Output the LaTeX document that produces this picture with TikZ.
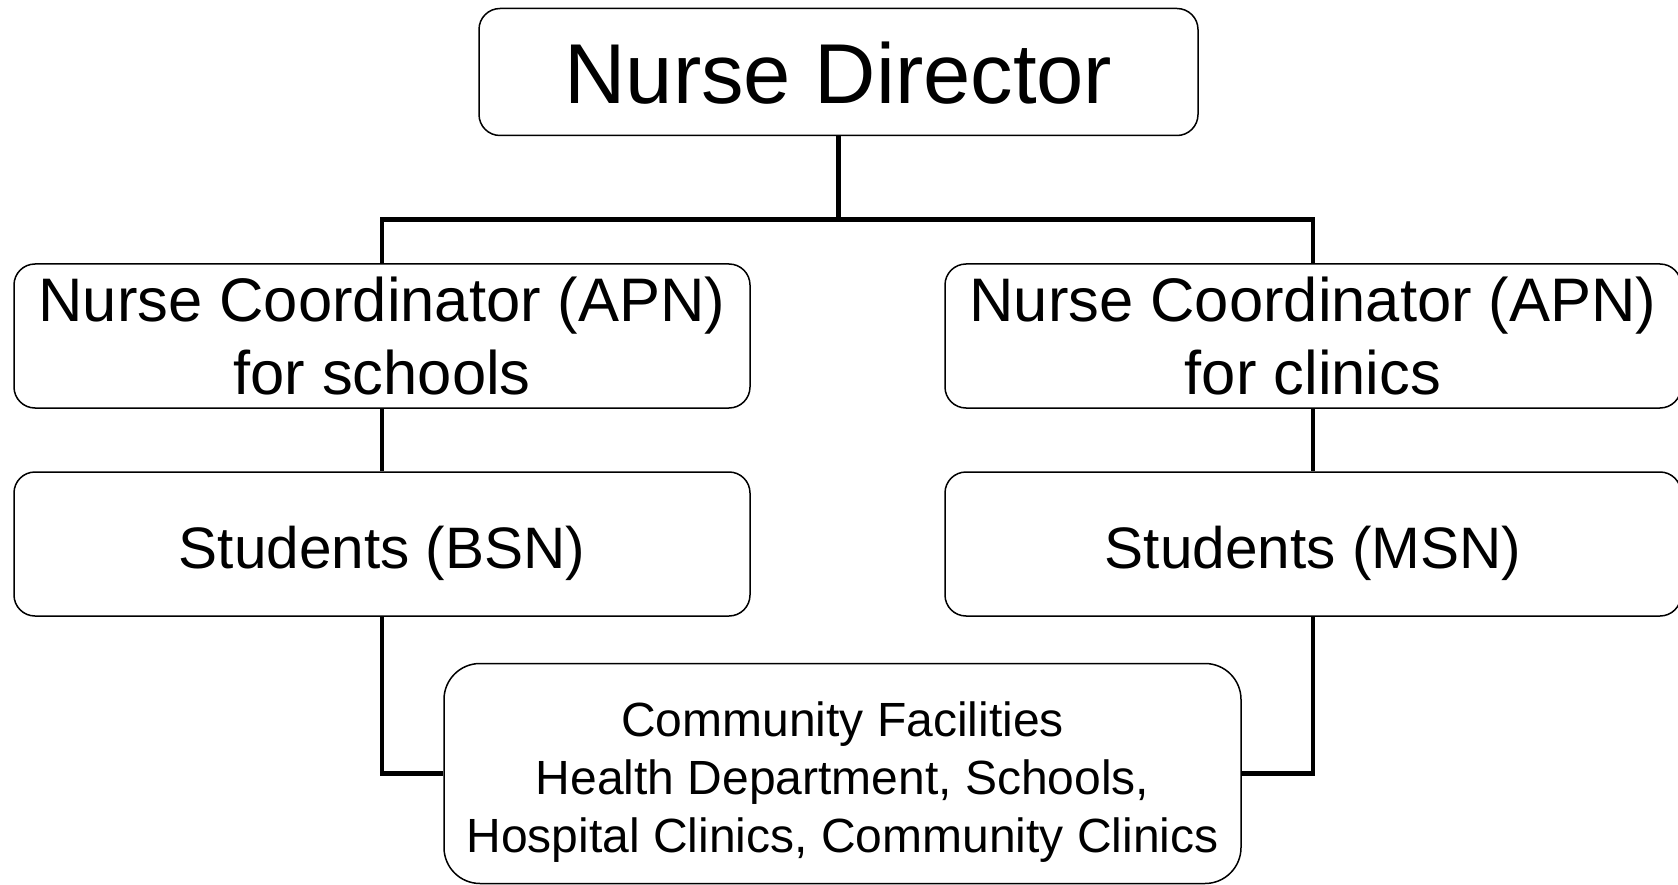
\documentclass[tikz,border=0pt]{standalone}
\usepackage{fontspec}
\setmainfont{Liberation Sans}

\tikzset{
  box/.style={draw, line width=1.5pt, rounded corners=21pt, fill=white,
    align=center, inner sep=0pt, minimum width=736pt, minimum height=144pt,
    font=\fontsize{61.5}{73}\selectfont},
  studbox/.style={box, font=\fontsize{58.5}{70}\selectfont,
    text height=60pt, text depth=12pt},
  link/.style={line width=4.5pt}
}

\begin{document}
\begin{tikzpicture}[x=1pt, y=-1pt]
        % Page size
        \useasboundingbox (0,0) rectangle (1678,885);

        % Boxes
        \node[box, minimum width=719pt, minimum height=127pt,
          font=\fontsize{85}{100}\selectfont, text height=64pt, text depth=0pt]
          (dir) at (838.5,72) {Nurse Director};
        \node[box] (coordL) at (382,336) {Nurse Coordinator (APN)\\for schools};
        \node[box] (coordR) at (1313,336) {Nurse Coordinator (APN)\\for clinics};
        \node[studbox] (studL) at (382,544) {Students (BSN)};
        \node[studbox] (studR) at (1313,544) {Students (MSN)};
        \node[box, minimum width=797pt, minimum height=220pt, rounded corners=36pt,
          label={[align=center, font=\fontsize{48}{58}\selectfont, yshift=-8.5pt]center:%
            Community Facilities\\Health Department, Schools,\\Hospital Clinics, Community Clinics}]
          (comm) at (842.5,773.5) {};

        % Links
        \coordinate (bus) at (838.5,219.5);
        \draw[link] (dir.south) -- (bus);
        \draw[link] (bus) -| (coordL.north);
        \draw[link] (bus) -| (coordR.north);
        \draw[link] (coordL) -- (studL);
        \draw[link] (coordR) -- (studR);
        \draw[link] (studL.south) |- (comm.west);
        \draw[link] (studR.south) |- (comm.east);
    \end{tikzpicture}
\end{document}
